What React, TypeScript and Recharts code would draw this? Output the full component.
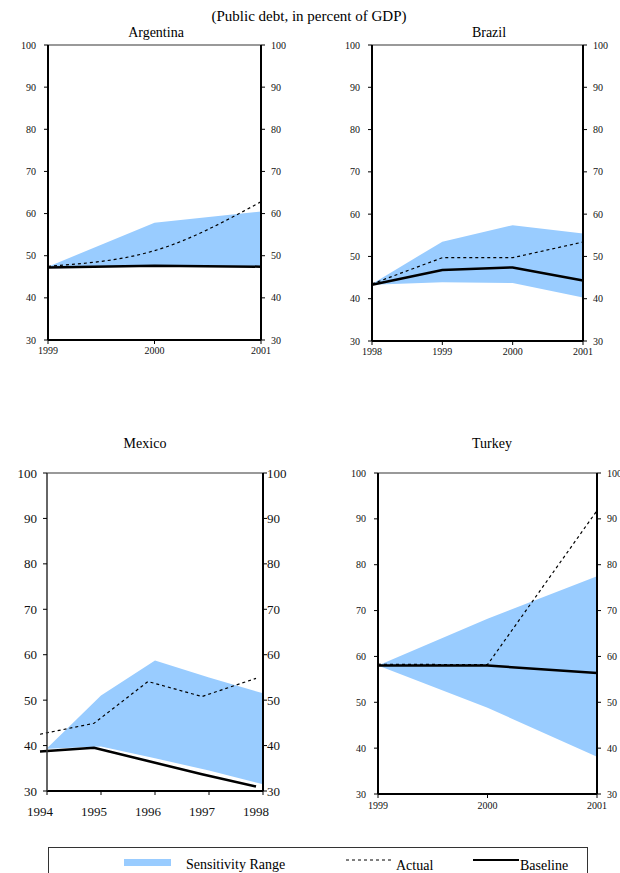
import React from 'react'
import { ComposedChart, Area, Line, XAxis, YAxis, ReferenceLine } from 'recharts'

// values (percent of GDP)
const argYears = [1999, 2000, 2001]
const argBaseline = [47.2, 47.6, 47.4]
const argActual = [47.5, 51.2, 62.8]
const argLow = [47.2, 47.6, 47.4]
const argHigh = [47.4, 57.8, 60.5]

const braYears = [1998, 1999, 2000, 2001]
const braBaseline = [43.3, 46.8, 47.4, 44.3]
const braActual = [43.5, 49.7, 49.7, 53.4]
const braLow = [43.3, 43.9, 43.7, 40.3]
const braHigh = [43.5, 53.5, 57.4, 55.4]

const mexYears = [1994, 1995, 1996, 1997, 1998]
const mexBaseline = [38.7, 39.5, 36.6, 33.7, 31.0]
const mexActual = [42.5, 44.9, 54.1, 50.8, 54.8]
const mexLow = [39.3, 39.8, 37.2, 34.5, 31.5]
const mexHigh = [39.4, 51.0, 58.7, 55.0, 51.5]

const turYears = [1999, 2000, 2001]
const turBaseline = [58.0, 58.0, 56.4]
const turActual = [58.3, 58.2, 91.8]
const turLow = [58.0, 48.8, 38.1]
const turHigh = [58.0, 68.2, 77.5]

const yTicks = [30, 40, 50, 60, 70, 80, 90, 100]

const FONT = '"Liberation Serif", "Times New Roman", serif'
const RANGE_FILL = '#99CCFF'

function rows(years: number[], low: number[], high: number[], base: number[], act: number[]) {
  return years.map((year, i) => ({
    year,
    range: [low[i], high[i]],
    baseline: base[i],
    actual: act[i],
  }))
}

interface PanelProps {
  years: number[]
  data: ReturnType<typeof rows>
  x: number
  y: number
  w: number
  h: number
  fontSize: number
  leftMargin: number
  rightMargin: number
  xMargin: number
  leftAxisStroke?: string
  leftAxisWidth?: number
  smoothActual?: boolean
  shift?: number
}

function Panel(p: PanelProps) {
  const shift = p.shift ?? 0
  const tick = { fill: '#111', fontSize: p.fontSize, fontFamily: FONT }
  return (
    <div style={{ position: 'absolute', left: p.x - 40, top: p.y - 10 }}>
      <ComposedChart
        width={p.w + 80}
        height={p.h + 40}
        data={p.data}
        margin={{ top: 10, right: 0, bottom: 0, left: 0 }}
      >
        <XAxis
          dataKey="year"
          type="number"
          domain={['dataMin', 'dataMax']}
          ticks={p.years}
          interval={0}
          height={30}
          tickSize={4}
          tickMargin={p.xMargin}
          axisLine={{ stroke: '#000', strokeWidth: 2 }}
          tickLine={{ stroke: '#000' }}
          tick={{ ...tick, dx: -shift }}
        />
        {/* the lines in the Mexico panel sit a few pixels left of the ticks */}
        <XAxis
          xAxisId="lines"
          dataKey="year"
          type="number"
          domain={['dataMin', 'dataMax']}
          hide
          padding={{ left: -shift, right: shift }}
        />
        <YAxis
          yAxisId="l"
          type="number"
          width={40}
          domain={[30, 100]}
          ticks={yTicks}
          interval={0}
          allowDataOverflow
          tickSize={4}
          tickMargin={p.leftMargin}
          axisLine={{ stroke: p.leftAxisStroke ?? '#000', strokeWidth: p.leftAxisWidth ?? 2 }}
          tickLine={{ stroke: '#000' }}
          tick={tick}
        />
        <YAxis
          yAxisId="r"
          orientation="right"
          type="number"
          width={40}
          domain={[30, 100]}
          ticks={yTicks}
          interval={0}
          allowDataOverflow
          tickSize={4}
          tickMargin={p.rightMargin}
          axisLine={{ stroke: '#000', strokeWidth: 2 }}
          tickLine={{ stroke: '#000' }}
          tick={{ ...tick, textAnchor: 'start' }}
        />
        <ReferenceLine yAxisId="l" y={100} stroke="#999" strokeWidth={2} />
        <Area
          yAxisId="l"
          dataKey="range"
          type="linear"
          stroke="none"
          fill={RANGE_FILL}
          fillOpacity={1}
          isAnimationActive={false}
        />
        <Line
          yAxisId="l"
          xAxisId="lines"
          dataKey="actual"
          type={p.smoothActual ? 'monotone' : 'linear'}
          stroke="#000"
          strokeWidth={1.2}
          strokeDasharray="3 3"
          dot={false}
          isAnimationActive={false}
        />
        <Line
          yAxisId="l"
          xAxisId="lines"
          dataKey="baseline"
          type="linear"
          stroke="#000"
          strokeWidth={2.5}
          dot={false}
          isAnimationActive={false}
        />
      </ComposedChart>
    </div>
  )
}

export default function App() {
  return (
    <div
      style={{
        position: 'relative',
        width: 620,
        height: 873,
        overflow: 'hidden',
        background: '#fff',
        fontFamily: FONT,
      }}
    >
      <style>{`body{margin:0} .recharts-text{font-family:${FONT}}`}</style>
      <Panel
        years={argYears}
        data={rows(argYears, argLow, argHigh, argBaseline, argActual)}
        x={48}
        y={45}
        w={213}
        h={295}
        fontSize={10}
        leftMargin={8}
        rightMargin={6}
        xMargin={3}
        smoothActual
      />
      <Panel
        years={braYears}
        data={rows(braYears, braLow, braHigh, braBaseline, braActual)}
        x={372}
        y={45}
        w={211}
        h={296}
        fontSize={10}
        leftMargin={8}
        rightMargin={6}
        xMargin={3}
      />
      <Panel
        years={mexYears}
        data={rows(mexYears, mexLow, mexHigh, mexBaseline, mexActual)}
        x={47}
        y={473}
        w={216}
        h={318}
        fontSize={13}
        leftMargin={6}
        rightMargin={0}
        xMargin={12}
        leftAxisStroke="#333"
        leftAxisWidth={1.5}
        shift={7}
      />
      <Panel
        years={turYears}
        data={rows(turYears, turLow, turHigh, turBaseline, turActual)}
        x={378}
        y={473}
        w={219}
        h={321}
        fontSize={10}
        leftMargin={8}
        rightMargin={6}
        xMargin={4}
      />
      <svg
        width={620}
        height={873}
        style={{ position: 'absolute', left: 0, top: 0, pointerEvents: 'none' }}
        fontFamily={FONT}
      >
        <text x={309} y={21} textAnchor="middle" fontSize={15} fill="#000">
          (Public debt, in percent of GDP)
        </text>
        <text x={156} y={37} textAnchor="middle" fontSize={14} fill="#000">Argentina</text>
        <text x={489} y={37} textAnchor="middle" fontSize={14} fill="#000">Brazil</text>
        <text x={145} y={448} textAnchor="middle" fontSize={14} fill="#000">Mexico</text>
        <text x={492} y={448} textAnchor="middle" fontSize={14} fill="#000">Turkey</text>

        <rect x={48.5} y={847.5} width={539} height={40} fill="none" stroke="#333" />
        <rect x={124} y={859} width={47} height={7} fill={RANGE_FILL} />
        <text x={186} y={869} fontSize={14} fill="#000">Sensitivity Range</text>
        <line x1={346} x2={391} y1={860} y2={860} stroke="#000" strokeDasharray="3 3" />
        <text x={396} y={870} fontSize={14} fill="#000">Actual</text>
        <line x1={473} x2={519} y1={860} y2={860} stroke="#000" strokeWidth={2} />
        <text x={520} y={870} fontSize={14} fill="#000">Baseline</text>
      </svg>
    </div>
  )
}
